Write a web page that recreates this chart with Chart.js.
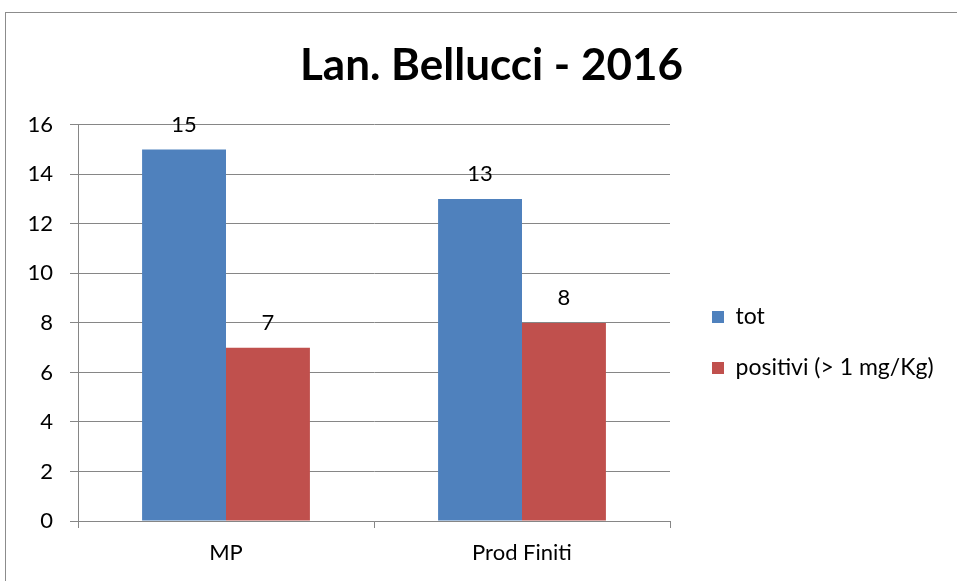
<!DOCTYPE html>
<html>
<head>
<meta charset="utf-8">
<title>Lan. Bellucci - 2016</title>
<script src="https://cdn.jsdelivr.net/npm/chart.js@4/dist/chart.umd.min.js"></script>
<style>
  html, body { margin: 0; padding: 0; background: #fff; overflow: hidden; }
  #frame { position: absolute; left: 5px; top: 12px; width: 1000px; height: 700px; border: 1px solid #8c8c8c; }
  #wrap { position: absolute; left: 0; top: 0; width: 951px; height: 569px; }
</style>
</head>
<body>
<div id="frame"><div id="wrap"><canvas id="myBarChart"></canvas></div></div>
<script>
// data
const categories = ['MP', 'Prod Finiti'];
const seriesNames = ['tot', 'positivi (> 1 mg/Kg)'];
const totValues = [15, 13];
const positiviValues = [7, 8];
const yMin = 0, yMax = 16, yStep = 2;

const gridGray = '#868686';
const fontFamily = 'Lato, "Open Sans", sans-serif';

// value labels above the bars
const valueLabels = {
  id: 'valueLabels',
  afterDatasetsDraw(chart) {
    const ctx = chart.ctx;
    ctx.save();
    ctx.font = '22px ' + fontFamily;
    ctx.fillStyle = '#000';
    ctx.textAlign = 'center';
    ctx.textBaseline = 'alphabetic';
    chart.data.datasets.forEach((ds, i) => {
      chart.getDatasetMeta(i).data.forEach((bar, j) => {
        ctx.fillText(ds.data[j], bar.x, bar.y - 18);
      });
    });
    ctx.restore();
  }
};

// push the legend a bit away from the plot, nudge the title right
const legendShift = {
  id: 'legendShift',
  beforeInit(chart) {
    const origFit = chart.legend.fit;
    chart.legend.fit = function () {
      origFit.call(this);
      this.width = 287;
    };
  },
  afterLayout(chart) {
    const lg = chart.legend;
    lg.left += 14; lg.right += 14;
    lg.top += 45; lg.bottom += 45;
    const tb = chart.titleBlock;
    if (tb) { tb.left += 20; tb.right += 0; }
  }
};

var barCanvas = document.getElementById('myBarChart');
let myChart = new Chart(barCanvas, {
  type: 'bar',
  data: {
    labels: categories,
    datasets: [{
      label: seriesNames[0],
      data: totValues,
      backgroundColor: '#4F81BD',
      borderWidth: 0
    }, {
      label: seriesNames[1],
      data: positiviValues,
      backgroundColor: '#C0504D',
      borderWidth: 0
    }]
  },
  options: {
    responsive: true,
    maintainAspectRatio: false,
    animation: false,
    categoryPercentage: 0.567,
    barPercentage: 1,
    layout: { padding: 0 },
    plugins: {
      title: {
        display: true,
        text: 'Lan. Bellucci - 2016',
        color: '#000',
        font: { family: fontFamily, size: 44, weight: 'bold' },
        padding: { top: 26, bottom: 33 }
      },
      legend: {
        position: 'right',
        labels: {
          color: '#000',
          font: { family: fontFamily, size: 23 },
          boxWidth: 12,
          boxHeight: 12,
          padding: 28
        }
      },
      tooltip: { enabled: false }
    },
    scales: {
      x: {
        grid: { drawOnChartArea: false, drawTicks: true, tickLength: 7, color: gridGray },
        border: { display: true, color: gridGray, width: 1 },
        ticks: { color: '#000', font: { family: fontFamily, size: 22 }, padding: 12 },
        afterFit(scale) { scale.height = 61; }
      },
      y: {
        min: yMin,
        max: yMax,
        grid: { color: gridGray, tickLength: 8 },
        border: { display: true, color: gridGray, width: 1 },
        ticks: { stepSize: yStep, color: '#000', font: { family: fontFamily, size: 22 }, padding: 17 },
        afterFit(scale) { scale.width = 72; }
      }
    }
  },
  plugins: [valueLabels, legendShift]
});
</script>
</body>
</html>
